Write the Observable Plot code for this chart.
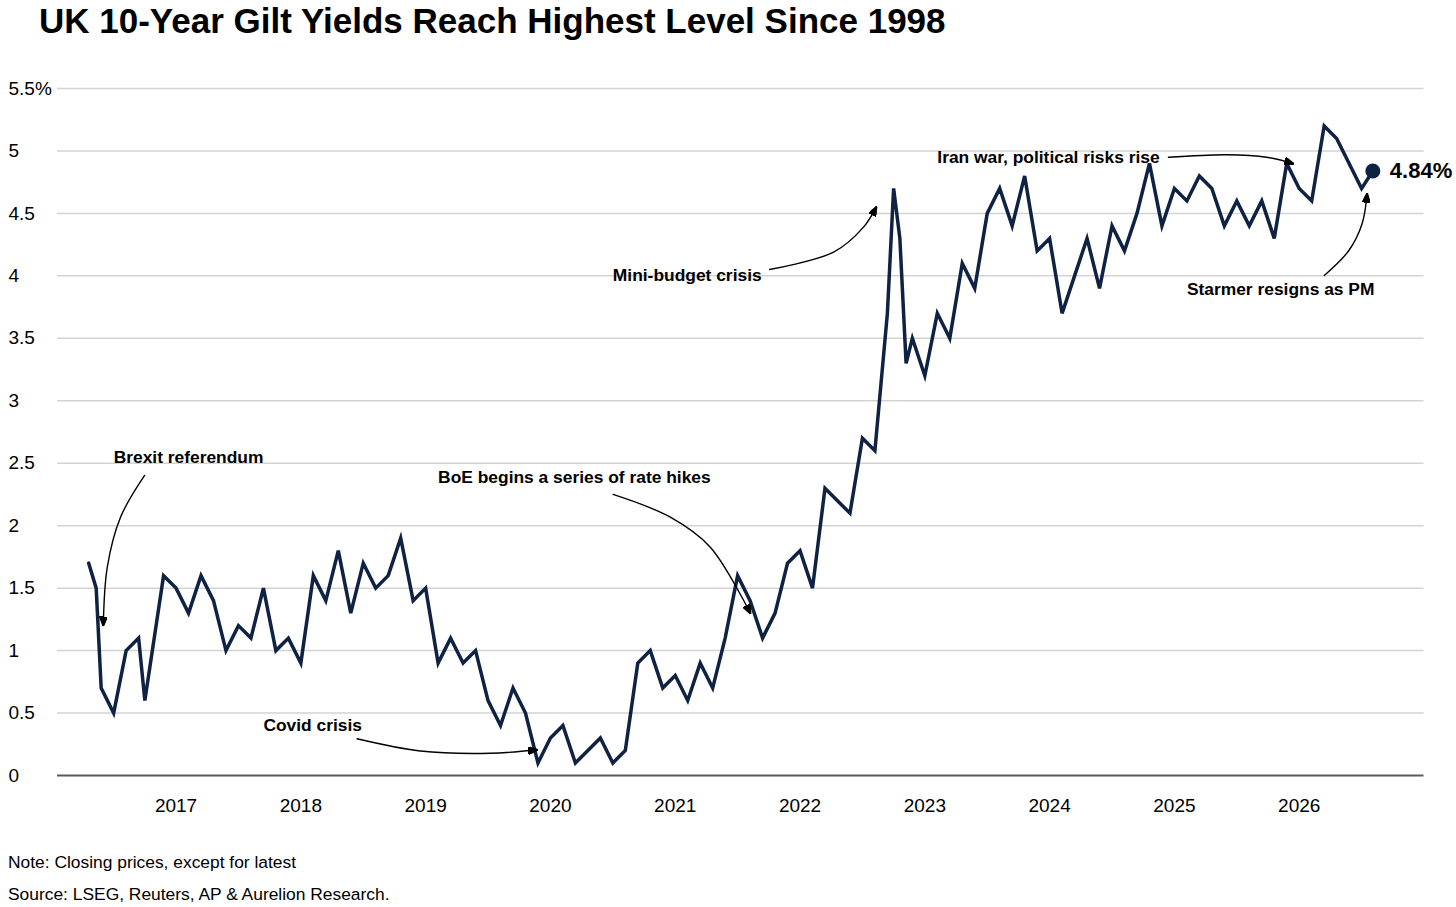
<!DOCTYPE html>
<html><head><meta charset="utf-8">
<script src="https://cdn.jsdelivr.net/npm/d3@7"></script>
<script src="https://cdn.jsdelivr.net/npm/@observablehq/plot@0.6"></script>
<style>
body{margin:0;background:#fff;font-family:"Liberation Sans",Arial,sans-serif;}
#wrap{position:relative;width:1456px;height:907px;overflow:hidden;}
#title{position:absolute;left:39px;top:3px;font-size:35px;line-height:35px;font-weight:bold;color:#000;white-space:nowrap;}
#chart{position:absolute;left:0;top:60px;}
.foot{position:absolute;left:8px;font-size:17.4px;line-height:17px;color:#000;white-space:nowrap;}
</style></head>
<body><div id="wrap">
<div id="title">UK 10-Year Gilt Yields Reach Highest Level Since 1998</div>
<div id="chart"></div>
<div class="foot" style="top:853.5px">Note: Closing prices, except for latest</div>
<div class="foot" style="top:885.5px">Source: LSEG, Reuters, AP &amp; Aurelion Research.</div>
</div>
<script>
// ---- data ----
const years = [2016.30,2016.36,2016.40,2016.50,2016.60,2016.70,2016.75,2016.90,
2017.00,2017.10,2017.20,2017.30,2017.40,2017.50,2017.60,2017.70,2017.80,2017.90,
2018.00,2018.10,2018.20,2018.30,2018.40,2018.50,2018.60,2018.70,2018.80,2018.90,
2019.00,2019.10,2019.20,2019.30,2019.40,2019.50,2019.60,2019.70,2019.80,2019.90,
2020.00,2020.10,2020.20,2020.30,2020.40,2020.50,2020.60,2020.70,2020.80,2020.90,
2021.00,2021.10,2021.20,2021.30,2021.40,2021.50,2021.60,2021.70,2021.80,2021.90,
2022.00,2022.10,2022.20,2022.30,2022.40,2022.50,2022.60,2022.70,2022.75,2022.80,2022.85,2022.90,
2023.00,2023.10,2023.20,2023.30,2023.40,2023.50,2023.60,2023.70,2023.80,2023.90,
2024.00,2024.10,2024.20,2024.30,2024.40,2024.50,2024.60,2024.70,2024.80,2024.90,
2025.00,2025.10,2025.20,2025.30,2025.40,2025.50,2025.60,2025.70,2025.80,2025.90,
2026.00,2026.10,2026.20,2026.30,2026.40,2026.50,2026.59];
const yields = [1.7,1.5,0.7,0.5,1.0,1.1,0.6,1.6,
1.5,1.3,1.6,1.4,1.0,1.2,1.1,1.5,1.0,1.1,
0.9,1.6,1.4,1.8,1.3,1.7,1.5,1.6,1.9,1.4,
1.5,0.9,1.1,0.9,1.0,0.6,0.4,0.7,0.5,0.1,
0.3,0.4,0.1,0.2,0.3,0.1,0.2,0.9,1.0,0.7,
0.8,0.6,0.9,0.7,1.1,1.6,1.4,1.1,1.3,1.7,
1.8,1.5,2.3,2.2,2.1,2.7,2.6,3.7,4.7,4.3,3.3,3.5,
3.2,3.7,3.5,4.1,3.9,4.5,4.7,4.4,4.8,4.2,
4.3,3.7,4.0,4.3,3.9,4.4,4.2,4.5,4.9,4.4,
4.7,4.6,4.8,4.7,4.4,4.6,4.4,4.6,4.3,4.9,
4.7,4.6,5.2,5.1,4.9,4.7,4.84];
const tickYears = [2017,2018,2019,2020,2021,2022,2023,2024,2025,2026];
const yTicks = [0,0.5,1,1.5,2,2.5,3,3.5,4,4.5,5,5.5];
const yTickLabels = ["0","0.5","1","1.5","2","2.5","3","3.5","4","4.5","5","5.5%"];
const noteLabels = ["Brexit referendum","BoE begins a series of rate hikes","Covid crisis","Mini-budget crisis","Iran war, political risks rise","Starmer resigns as PM"];
const noteX = [2016.50,2019.10,2017.70,2020.50,2023.10,2025.10];
const noteY = [2.55,2.39,0.40,4.00,4.95,3.89];
const arrowPaths = [
  {id:"brexit", pts:[[2016.748,2.402],[2016.555,2.068],[2016.449,1.668],[2016.417,1.201]]},
  {id:"covid",  pts:[[2018.451,0.294],[2018.958,0.196],[2019.519,0.178],[2019.893,0.206]]},
  {id:"boe",    pts:[[2020.502,2.250],[2020.961,2.068],[2021.281,1.828],[2021.602,1.299]]},
  {id:"mini",   pts:[[2021.756,4.051],[2022.269,4.190],[2022.509,4.390],[2022.611,4.550]]},
  {id:"iran",   pts:[[2024.952,4.950],[2025.420,4.970],[2025.740,4.950],[2025.953,4.898]]},
  {id:"starmer",pts:[[2026.201,4.003],[2026.398,4.203],[2026.504,4.417],[2026.544,4.657]]}
];

// ---- tables ----
const rows = years.map((y,i)=>({year:y, yield:yields[i]}));
const last = [rows[rows.length-1]];
const notes = noteLabels.map((t,i)=>({text:t, x:noteX[i], y:noteY[i]}));
const arrowRows = arrowPaths.flatMap(a => a.pts.map(p => ({id:a.id, x:p[0], y:p[1]})));
const yLabel = new Map(yTicks.map((t,i)=>[t, yTickLabels[i]]));

const NAVY = "#0f2244";
const FONT = '"Liberation Sans", Arial, sans-serif';

function filledArrow(color, context) {
  const doc = (context && context.document) || document;
  const ns = "http://www.w3.org/2000/svg";
  const m = doc.createElementNS(ns, "marker");
  m.setAttribute("viewBox", "0 0 10 8");
  m.setAttribute("refX", "9");
  m.setAttribute("refY", "4");
  m.setAttribute("markerWidth", "10");
  m.setAttribute("markerHeight", "8");
  m.setAttribute("markerUnits", "userSpaceOnUse");
  m.setAttribute("orient", "auto");
  const p = doc.createElementNS(ns, "path");
  p.setAttribute("d", "M0,0L10,4L0,8Z");
  p.setAttribute("fill", color === "currentColor" ? "#000" : color);
  m.appendChild(p);
  return m;
}

function build(marker) {
  return Plot.plot({
    width: 1456, height: 760,
    marginTop: 28, marginBottom: 45, marginLeft: 57, marginRight: 32.5,
    style: {fontFamily: FONT, fontSize: "19px", color: "#000", background: "#fff", overflow: "visible"},
    x: {type: "linear", domain: [2016.05, 2027.0]},
    y: {type: "linear", domain: [0, 5.5]},
    marks: [
      Plot.gridY(yTicks.filter(d => d > 0), {stroke: "#d3d3d3", strokeOpacity: 1, strokeWidth: 1.5}),
      Plot.ruleY([0], {stroke: "#5a5a5a", strokeWidth: 2}),
      Plot.axisX(tickYears, {tickSize: 0, tickPadding: 23, label: null, tickFormat: d => String(d), fontSize: 19}),
      Plot.axisY(yTicks, {tickSize: 0, tickPadding: 0, textAnchor: "start", dx: -49, label: null, tickFormat: d => yLabel.get(d), fontSize: 19}),
      Plot.line(rows, {x: "year", y: "yield", stroke: NAVY, strokeWidth: 3.5, strokeLinejoin: "miter", strokeMiterlimit: 4}),
      Plot.dot(last, {x: "year", y: "yield", r: 7.5, fill: NAVY, stroke: "none"}),
      Plot.text(last, {x: "year", y: "yield", text: d => `${d.yield}%`, dx: 17, textAnchor: "start", lineAnchor: "middle", fontWeight: "bold", fontSize: 22, fill: "#000"}),
      Plot.line(arrowRows, {x: "x", y: "y", z: "id", curve: "catmull-rom", stroke: "#000", strokeWidth: 1.4, markerEnd: marker}),
      Plot.text(notes, {x: "x", y: "y", text: "text", textAnchor: "start", lineAnchor: "middle", fontWeight: "bold", fontSize: 17.4, fill: "#000"})
    ]
  });
}

let chart;
try { chart = build(filledArrow); } catch (e) { console.error(e); chart = build("arrow"); }
document.getElementById("chart").appendChild(chart);
</script>
</body></html>
